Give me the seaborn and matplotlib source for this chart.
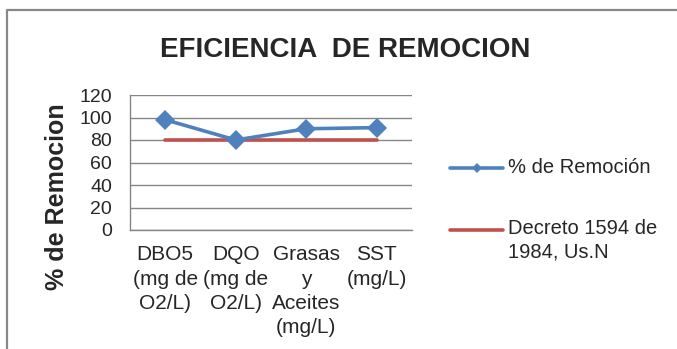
import pandas as pd
import matplotlib.pyplot as plt
import seaborn as sns
from matplotlib.lines import Line2D

# Datos
categorias = ["DBO5\n(mg de\nO2/L)", "DQO\n(mg de\nO2/L)", "Grasas\ny\nAceites\n(mg/L)", "SST\n(mg/L)"]
remocion = [98, 80, 90, 91]
decreto = [80, 80, 80, 80]
serie_1 = "% de Remoción"
serie_2 = "Decreto 1594 de\n1984, Us.N"

df = pd.DataFrame({"Parametro": categorias, "Remocion": remocion, "Decreto": decreto})

sns.set_style("white")
plt.rcParams["font.family"] = ["Liberation Sans", "DejaVu Sans"]

azul = "#4F81BD"
rojo = "#C0504D"
gris = "#868686"

fig = plt.figure(figsize=(6.77, 3.49), dpi=100)
ax = fig.add_axes([130 / 677, 1 - 230 / 349, 282 / 677, 135 / 349])

sns.lineplot(data=df, x="Parametro", y="Decreto", color=rojo, linewidth=2.6, ax=ax, zorder=2)
sns.lineplot(data=df, x="Parametro", y="Remocion", color=azul, linewidth=2.6,
             marker="D", markersize=10.5, markeredgewidth=0, ax=ax, zorder=3)

ax.set_xlim(-0.5, 3.5)
ax.set_ylim(0, 120)
ax.set_yticks(range(0, 121, 20))
ax.grid(axis="y", color=gris, linewidth=1)
ax.tick_params(axis="y", labelsize=14, pad=13, length=0)
ax.tick_params(axis="x", labelsize=15, pad=11, length=0)
for lbl in ax.get_xticklabels():
    lbl.set_linespacing(1.35)
for s in ["top", "right"]:
    ax.spines[s].set_visible(False)
for s in ["left", "bottom"]:
    ax.spines[s].set_color(gris)
    ax.spines[s].set_linewidth(1)

ax.set_xlabel("")
ax.set_ylabel("% de Remocion", fontsize=18, fontweight="bold")
ax.yaxis.set_label_coords(-0.215, 0.244)

fig.text(345 / 677, 1 - 50 / 349, "EFICIENCIA  DE REMOCION", fontsize=20, fontweight="bold",
         ha="center", va="center")

# leyenda
fig.add_artist(Line2D([450 / 677, 503 / 677], [1 - 168 / 349] * 2, color=azul, linewidth=2.6,
                      transform=fig.transFigure))
fig.add_artist(Line2D([477 / 677], [1 - 168 / 349], color=azul, marker="D", markersize=5,
                      markeredgewidth=0, transform=fig.transFigure))
fig.text(508 / 677, 1 - 168 / 349, serie_1, fontsize=14.5, va="center", ha="left")
fig.add_artist(Line2D([450 / 677, 503 / 677], [1 - 230 / 349] * 2, color=rojo, linewidth=2.6,
                      transform=fig.transFigure))
fig.text(508 / 677, 1 - 219 / 349, serie_2, fontsize=14.5, va="top", ha="left", linespacing=1.3)

# borde del grafico
fig.add_artist(Line2D([7 / 677, 7 / 677, 1], [0, 1 - 10 / 349, 1 - 10 / 349], color="#888888",
                      linewidth=1.6, transform=fig.transFigure))

fig.savefig("out.png", dpi=100)
